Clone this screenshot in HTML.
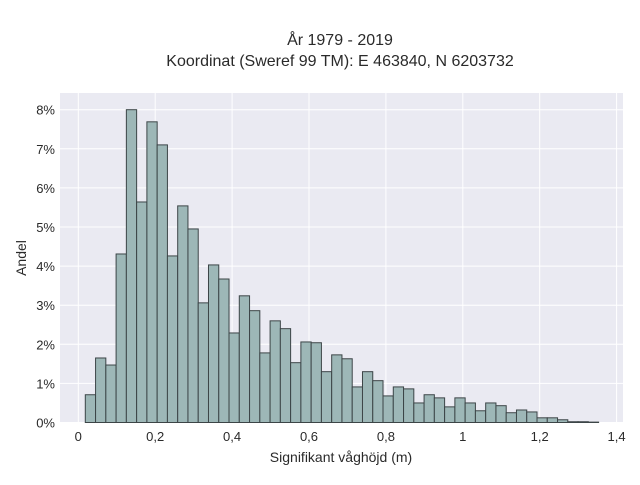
<!DOCTYPE html>
<html><head><meta charset="utf-8"><style>
body{margin:0;background:#fff;width:640px;height:480px;overflow:hidden}
text{font-family:"Liberation Sans",sans-serif;fill:#2a2a2a}
</style></head><body>
<svg id="chart" width="640" height="480" xmlns="http://www.w3.org/2000/svg">
<text x="340" y="45" text-anchor="middle" font-size="16">År 1979 - 2019</text>
<text x="340" y="66" text-anchor="middle" font-size="16">Koordinat (Sweref 99 TM): E 463840, N 6203732</text>
<rect x="60" y="93" width="563" height="330" fill="#eaeaf2"/>
<g id="grid"></g><g id="bars"></g><g id="ticks"></g>
<text x="341" y="462" text-anchor="middle" font-size="14">Signifikant våghöjd (m)</text>
<text x="26" y="258" text-anchor="middle" font-size="14" transform="rotate(-90 26 258)">Andel</text>
</svg>
<script>
const values=[0.71,1.65,1.47,4.31,8.0,5.64,7.69,7.10,4.26,5.54,4.95,3.06,4.03,3.67,2.29,3.24,2.86,1.78,2.60,2.40,1.53,2.06,2.04,1.30,1.73,1.63,0.91,1.30,1.07,0.68,0.91,0.86,0.50,0.71,0.63,0.40,0.63,0.50,0.30,0.50,0.43,0.25,0.32,0.27,0.12,0.12,0.07,0.02,0.02,0.01];
const binStart=0.0182, binWidth=0.0267;
const xTicks=[0,0.2,0.4,0.6,0.8,1,1.2,1.4];
const xTickLabels=["0","0,2","0,4","0,6","0,8","1","1,2","1,4"];
const yTicks=[0,1,2,3,4,5,6,7,8];
const yTickLabels=["0%","1%","2%","3%","4%","5%","6%","7%","8%"];
const NS="http://www.w3.org/2000/svg";
const xs=v=>78.3+v*384.5, ys=v=>422.5-v*39.1;
const grid=document.getElementById('grid'),bars=document.getElementById('bars'),ticks=document.getElementById('ticks');
function mk(tag,attrs,parent){const e=document.createElementNS(NS,tag);for(const k in attrs)e.setAttribute(k,attrs[k]);parent.appendChild(e);return e;}
xTicks.forEach((t,i)=>{
 const l=mk('line',{x1:xs(t),x2:xs(t),y1:93,y2:423,stroke:'#fff','stroke-width':1},grid);
 
 
 const tx=mk('text',{x:xs(t),y:441,'text-anchor':'middle','font-size':13},ticks);
 tx.textContent=xTickLabels[i];
 
 
});
yTicks.forEach((t,i)=>{
 const l=mk('line',{x1:60,x2:623,y1:ys(t),y2:ys(t),stroke:'#fff','stroke-width':1},grid);
 
 
 const tx=mk('text',{x:55,y:ys(t)+5,'text-anchor':'end','font-size':13},ticks);
 tx.textContent=yTickLabels[i];
 
 
});
values.forEach((v,i)=>{
 const x0=xs(binStart+i*binWidth),x1=xs(binStart+(i+1)*binWidth);
 const r=mk('rect',{x:x0,y:ys(v),width:x1-x0,height:ys(0)-ys(v),fill:'#9db7b7',stroke:'#3c4547','stroke-width':1},bars);
 
 
});
</script>
</body></html>
